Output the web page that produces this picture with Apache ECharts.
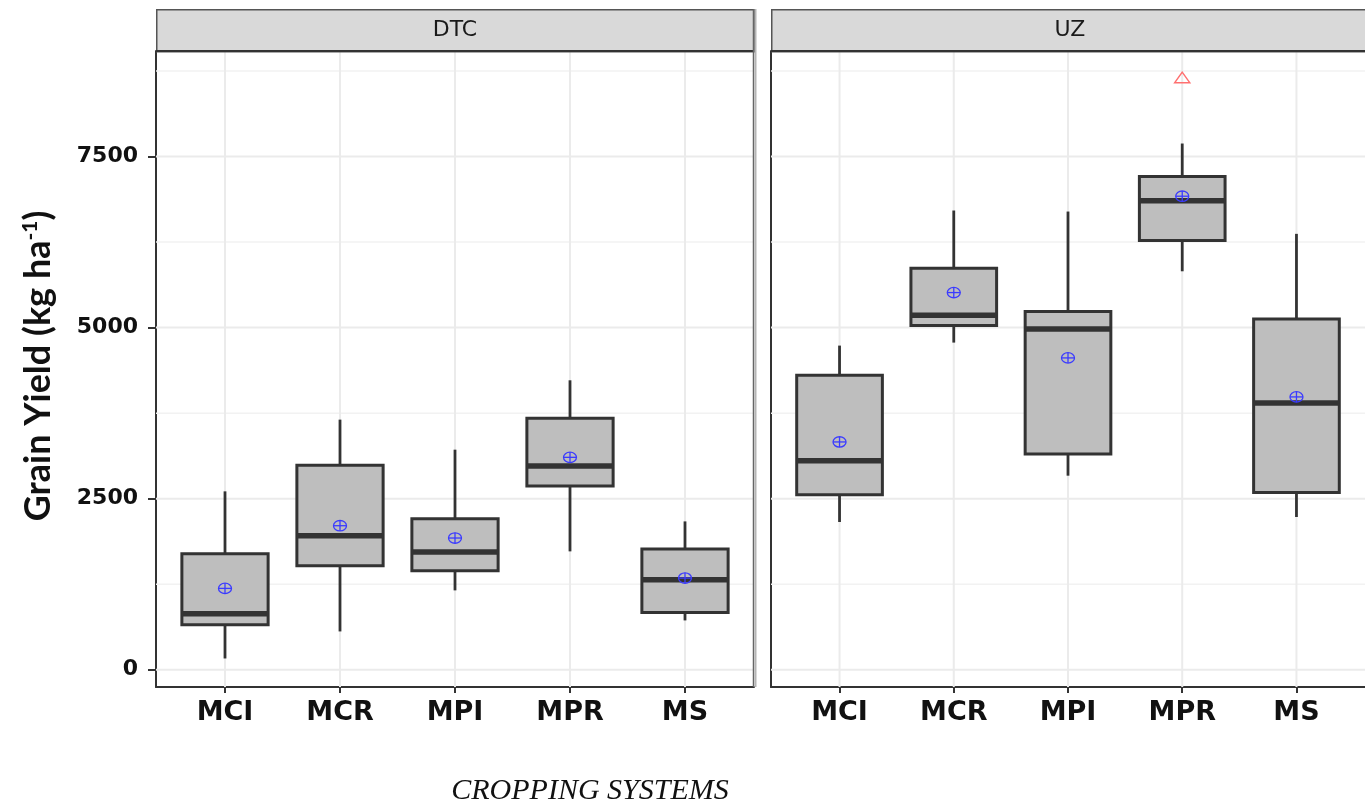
<!DOCTYPE html>
<html>
<head>
<meta charset="utf-8">
<script src="https://cdn.jsdelivr.net/npm/echarts@6/dist/echarts.min.js"></script>
<style>
  html, body { margin: 0; padding: 0; background: #ffffff; }
  #chart { width: 1365px; height: 804px; }
</style>
</head>
<body>
<div id="chart"></div>
<script>
// ---------- data ----------
const categories = ['MCI', 'MCR', 'MPI', 'MPR', 'MS'];
const panels = ['DTC', 'UZ'];

const dtcMin    = [165, 560, 1160, 1730, 721];
const dtcQ1     = [658, 1520, 1447, 2686, 838];
const dtcMedian = [819, 1959, 1721, 2978, 1316];
const dtcQ3     = [1696, 2987, 2208, 3674, 1764];
const dtcMax    = [2607, 3655, 3216, 4230, 2168];
const dtcMean   = [1189, 2105, 1925, 3104, 1340];
const dtcOutliers = [];

const uzMin    = [2159, 4781, 2836, 5823, 2232];
const uzQ1     = [2559, 5029, 3153, 6272, 2592];
const uzMedian = [3056, 5180, 4981, 6852, 3899];
const uzQ3     = [4303, 5867, 5234, 7208, 5127];
const uzMax    = [4737, 6711, 6696, 7690, 6370];
const uzMean   = [3329, 5512, 4557, 6920, 3987];
const uzOutliers = [['MPR', 8645]];

const yTicks = [0, 2500, 5000, 7500];
const yMinorTicks = [1250, 3750, 6250, 8750];
const yTitle = 'Grain Yield (kg ha';
const yTitleSup = '-1';
const xTitle = 'CROPPING SYSTEMS';

// ---------- helpers ----------
const catPos = categories.map((c, i) => i + 1);
function boxData(mn, q1, md, q3, mx) {
  return categories.map((c, i) => [i + 1, mn[i], q1[i], md[i], q3[i], mx[i]]);
}
function meanData(m) { return categories.map((c, i) => [i + 1, m[i]]); }
function outlierData(o) { return o.map(p => [categories.indexOf(p[0]) + 1, p[1]]); }

const DARK = '#333333';
const BOX_W = 0.75;

function renderBox(params, api) {
  const x = api.value(0);
  const lo = api.coord([x, api.value(1)]);
  const q1 = api.coord([x, api.value(2)]);
  const md = api.coord([x, api.value(3)]);
  const q3 = api.coord([x, api.value(4)]);
  const hi = api.coord([x, api.value(5)]);
  const hw = api.size([BOX_W, 0])[0] / 2;
  const cx = lo[0];
  return {
    type: 'group',
    children: [
      { type: 'line', shape: { x1: cx, y1: hi[1], x2: cx, y2: q3[1] }, style: { stroke: DARK, lineWidth: 2.8 } },
      { type: 'line', shape: { x1: cx, y1: q1[1], x2: cx, y2: lo[1] }, style: { stroke: DARK, lineWidth: 2.8 } },
      { type: 'rect', shape: { x: cx - hw, y: q3[1], width: 2 * hw, height: q1[1] - q3[1] },
        style: { fill: '#bebebe', stroke: DARK, lineWidth: 3 } },
      { type: 'line', shape: { x1: cx - hw, y1: md[1], x2: cx + hw, y2: md[1] }, style: { stroke: DARK, lineWidth: 5.5 } }
    ]
  };
}

function renderMean(params, api) {
  const p = api.coord([api.value(0), api.value(1)]);
  const rx = 6.5, ry = 5.2;
  const cx = p[0], cy = p[1];
  const d = 'M' + (cx - rx) + ' ' + cy + ' A' + rx + ' ' + ry + ' 0 1 0 ' + (cx + rx) + ' ' + cy +
            ' A' + rx + ' ' + ry + ' 0 1 0 ' + (cx - rx) + ' ' + cy + ' Z';
  return {
    type: 'group',
    children: [
      { type: 'path', shape: { pathData: d }, style: { fill: 'none', stroke: '#3b3bff', lineWidth: 1.3 } },
      { type: 'line', shape: { x1: cx - rx, y1: cy, x2: cx + rx, y2: cy }, style: { stroke: '#3b3bff', lineWidth: 1.3 } },
      { type: 'line', shape: { x1: cx, y1: cy - ry, x2: cx, y2: cy + ry }, style: { stroke: '#3b3bff', lineWidth: 1.3 } }
    ]
  };
}

function renderOutlier(params, api) {
  const p = api.coord([api.value(0), api.value(1)]);
  const cx = p[0], cy = p[1];
  return {
    type: 'polygon',
    shape: { points: [[cx, cy - 6], [cx - 7.5, cy + 4.5], [cx + 7.5, cy + 4.5]] },
    style: { fill: 'none', stroke: '#ff7070', lineWidth: 1.5 }
  };
}

function renderGrid(params, api) {
  const cs = params.coordSys;
  const children = [];
  yMinorTicks.forEach(v => {
    const y = api.coord([1, v])[1];
    children.push({ type: 'line', shape: { x1: cs.x, y1: y, x2: cs.x + cs.width, y2: y },
      style: { stroke: '#f2f2f2', lineWidth: 1.5 } });
  });
  yTicks.forEach(v => {
    const y = api.coord([1, v])[1];
    children.push({ type: 'line', shape: { x1: cs.x, y1: y, x2: cs.x + cs.width, y2: y },
      style: { stroke: '#ebebeb', lineWidth: 2 } });
  });
  catPos.forEach(v => {
    const x = api.coord([v, 0])[0];
    children.push({ type: 'line', shape: { x1: x, y1: cs.y, x2: x, y2: cs.y + cs.height },
      style: { stroke: '#ebebeb', lineWidth: 2 } });
  });
  return { type: 'group', children };
}

// ---------- layout ----------
const PANEL_TOP = 51, PANEL_H = 636, PANEL_W = 598;
const panelLeft = [156, 771];
const STRIP_TOP = 9;

const grids = panelLeft.map(l => ({ left: l, top: PANEL_TOP, width: PANEL_W, height: PANEL_H, containLabel: false }));

const xAxes = panelLeft.map((l, i) => ({
  type: 'value', gridIndex: i, min: 0.4, max: 5.6,
  axisLine: { show: true, onZero: false, lineStyle: { color: DARK, width: 2 } },
  axisTick: { show: true, customValues: catPos, length: 6, lineStyle: { color: DARK, width: 2 } },
  axisLabel: {
    show: true, customValues: catPos, margin: 12,
    formatter: v => categories[Math.round(v) - 1] || '',
    fontFamily: 'DejaVu Sans', fontWeight: 'bold', fontSize: 27, color: '#111'
  },
  splitLine: { show: false }
}));

const yAxes = panelLeft.map((l, i) => ({
  type: 'value', gridIndex: i, min: -252, max: 9042,
  axisLine: { show: true, onZero: false, lineStyle: { color: DARK, width: 2 } },
  axisTick: { show: i === 0, customValues: yTicks, length: 8, lineStyle: { color: DARK, width: 2 } },
  axisLabel: {
    show: i === 0, customValues: yTicks, margin: 18,
    formatter: v => String(Math.round(v)),
    fontFamily: 'DejaVu Sans', fontWeight: 'bold', fontSize: 22, color: '#111'
  },
  splitLine: { show: false }
}));

const boxSets = [
  boxData(dtcMin, dtcQ1, dtcMedian, dtcQ3, dtcMax),
  boxData(uzMin, uzQ1, uzMedian, uzQ3, uzMax)
];
const meanSets = [meanData(dtcMean), meanData(uzMean)];
const outlierSets = [outlierData(dtcOutliers), outlierData(uzOutliers)];

const series = [];
panels.forEach((p, i) => {
  series.push({ type: 'custom', name: p + ' grid', xAxisIndex: i, yAxisIndex: i, z: 1, silent: true,
    data: [[1, 0]], renderItem: renderGrid });
  series.push({ type: 'custom', name: p + ' box', xAxisIndex: i, yAxisIndex: i, z: 2,
    encode: { x: 0, y: [1, 2, 3, 4, 5] }, data: boxSets[i], renderItem: renderBox });
  series.push({ type: 'custom', name: p + ' mean', xAxisIndex: i, yAxisIndex: i, z: 3,
    encode: { x: 0, y: 1 }, data: meanSets[i], renderItem: renderMean });
  series.push({ type: 'custom', name: p + ' outlier', xAxisIndex: i, yAxisIndex: i, z: 3,
    encode: { x: 0, y: 1 }, data: outlierSets[i], renderItem: renderOutlier });
});

const graphics = [];
panels.forEach((p, i) => {
  graphics.push({
    type: 'rect', left: panelLeft[i], top: STRIP_TOP, z: 10,
    shape: { width: PANEL_W, height: PANEL_TOP - STRIP_TOP },
    style: { fill: '#d9d9d9', stroke: '#555', lineWidth: 1.5 }
  });
  graphics.push({
    type: 'line', z: 11,
    shape: { x1: panelLeft[i], y1: PANEL_TOP, x2: panelLeft[i] + PANEL_W, y2: PANEL_TOP },
    style: { stroke: DARK, lineWidth: 2 }
  });
  graphics.push({
    type: 'text', z: 12, x: panelLeft[i] + PANEL_W / 2, y: (STRIP_TOP + PANEL_TOP) / 2,
    style: { text: p, fontFamily: 'DejaVu Sans', fontSize: 22, fill: '#1a1a1a',
      align: 'center', verticalAlign: 'middle' }
  });
});
// right border of the first panel
graphics.push({ type: 'line', z: 11,
  shape: { x1: 753.5, y1: STRIP_TOP, x2: 753.5, y2: PANEL_TOP + PANEL_H },
  style: { stroke: '#666', lineWidth: 1.5 } });
graphics.push({ type: 'line', z: 11,
  shape: { x1: 755.5, y1: STRIP_TOP, x2: 755.5, y2: PANEL_TOP + PANEL_H },
  style: { stroke: '#b5b5b5', lineWidth: 2 } });
// y title
graphics.push({
  type: 'text', z: 12, x: 38, y: 366, rotation: Math.PI / 2,
  style: {
    text: '{a|' + yTitle + '}{s|' + yTitleSup + '}{a|)}',
    align: 'center', verticalAlign: 'middle',
    rich: {
      a: { fontFamily: 'Lato', fontWeight: 'bold', fontSize: 36, fill: '#111', color: '#111' },
      s: { fontFamily: 'Lato', fontWeight: 'bold', fontSize: 21, fill: '#111', color: '#111', verticalAlign: 'top' }
    }
  }
});
// x title
graphics.push({
  type: 'text', z: 12, x: 590, y: 791,
  style: { text: xTitle, fontFamily: 'Liberation Serif', fontStyle: 'italic', fontSize: 30, fill: '#111',
    align: 'center', verticalAlign: 'middle' }
});

const chart = echarts.init(document.getElementById('chart'), null, { renderer: 'canvas' });
chart.setOption({
  backgroundColor: '#ffffff',
  animation: false,
  grid: grids,
  xAxis: xAxes,
  yAxis: yAxes,
  series: series,
  graphic: graphics
});
</script>
</body>
</html>
